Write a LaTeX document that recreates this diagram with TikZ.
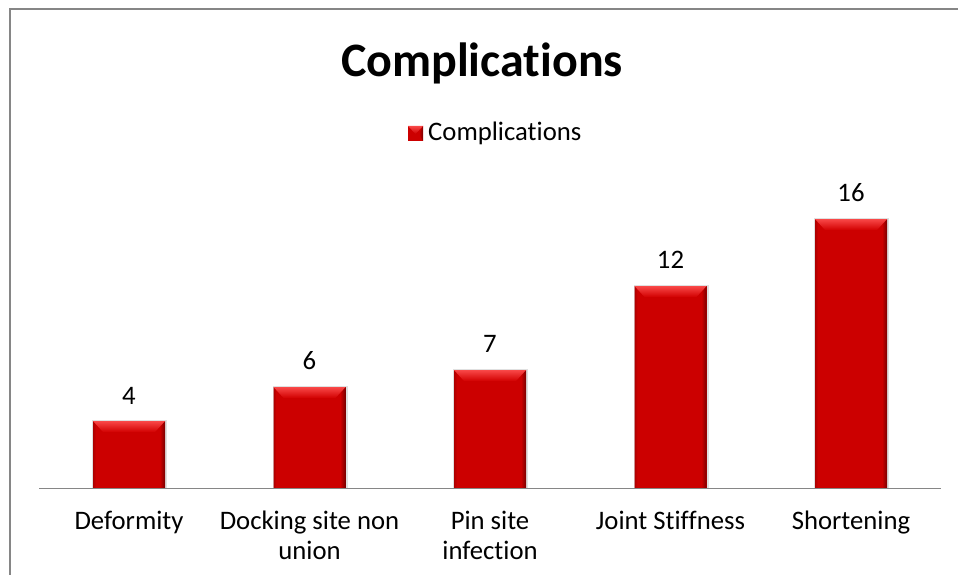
\documentclass[tikz,border=0pt]{standalone}
\usepackage{fontspec}
\setmainfont{Carlito}[Ligatures={NoCommon}]
\definecolor{barred}{HTML}{CC0000}
\definecolor{barlight}{HTML}{F94848}
\definecolor{bardark}{HTML}{7A0000}
\definecolor{framegrey}{HTML}{868686}
\newcommand\chartbar[2]{%
  \fill[black!12] (#1-37,#2-1) rectangle (#1+38,488);
  \fill[barred] (#1-36,#2) rectangle (#1+36,488);
  \shade[left color=barred!85!black, right color=barred] (#1-36,#2) -- (#1-33,#2+4) -- (#1-33,488) -- (#1-36,488) -- cycle;
  \shade[left color=barred, right color=bardark] (#1+36,#2) -- (#1+31,#2+6) -- (#1+31,488) -- (#1+36,488) -- cycle;
  \shade[top color=barlight, bottom color=barred!90!red] (#1-36,#2) -- (#1+36,#2) -- (#1+26,#2+11) -- (#1-26,#2+11) -- cycle;
}
\begin{document}
\begin{tikzpicture}[x=1pt,y=-1pt,
  cat/.style={font=\fontsize{26.7}{30}\selectfont, align=center, anchor=north, inner sep=0pt},
  val/.style={font=\fontsize{26.7}{30}\selectfont, inner sep=0pt},
  ttl/.style={font=\fontsize{48}{56}\selectfont\bfseries, inner sep=0pt}]
\useasboundingbox (0,0) rectangle (958,575);
\fill[white] (0,0) rectangle (958,575);
% frame (cropped chart area)
\draw[framegrey, line width=2pt] (9.5,575) -- (9.5,9.5) -- (958,9.5);
% title
\node[ttl] (title) at (482,63) {Complications};
% legend
\fill[barred] (408,126) rectangle (423,141);
\shade[top color=barlight, bottom color=barred] (408,126) -- (423,126) -- (415.5,134) -- cycle;
\shade[left color=barred, right color=bardark] (423,126) -- (423,141) -- (419,134) -- cycle;
\node[val, anchor=west] (legend) at (428,133) {Complications};
% bars
\chartbar{129}{421}
\chartbar{309.5}{387}
\chartbar{490}{370}
\chartbar{670.5}{286}
\chartbar{851}{219}
% axis
\draw[framegrey, line width=1pt] (39,488) -- (941,488);
% value labels
\node[val] (v1) at (129,396) {4};
\node[val] (v2) at (309.5,361) {6};
\node[val] (v3) at (490,344) {7};
\node[val] (v4) at (670.5,260) {12};
\node[val] (v5) at (851,193) {16};
% category labels
\node[cat] (c1) at (129,511) {Deformity};
\node[cat] (c2) at (309.5,511) {Docking site non\\union};
\node[cat] (c3) at (490,511) {Pin site\\infection};
\node[cat] (c4) at (670.5,511) {Joint Stiffness};
\node[cat] (c5) at (851,511) {Shortening};
\end{tikzpicture}
\end{document}
